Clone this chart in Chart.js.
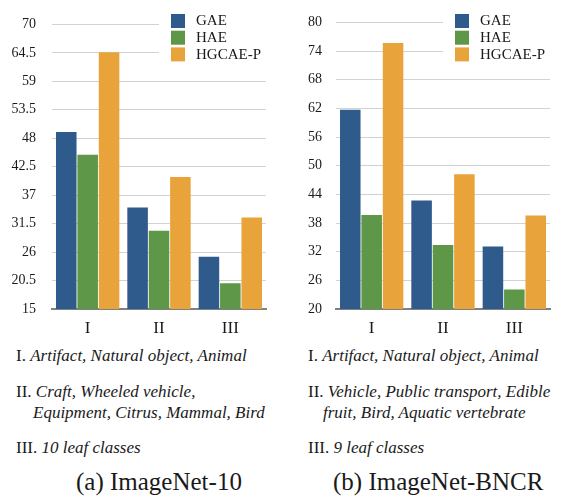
<!DOCTYPE html>
<html>
<head>
<meta charset="utf-8">
<script src="https://cdn.jsdelivr.net/npm/chart.js@4"></script>
<style>
  body { margin: 0; background: #fff; }
  #page { position: relative; width: 571px; height: 498px; overflow: hidden; font-family: "Liberation Serif", serif; color: #1a1a1a; }
  .box { position: absolute; top: 0; height: 340px; }
  .t { position: absolute; white-space: nowrap; font-size: 17px; line-height: 17px; }
  .cap { position: absolute; white-space: nowrap; font-size: 25px; line-height: 25px; }
</style>
</head>
<body>
<div id="page">
  <div class="box" style="left:0;width:285px"><canvas id="chart1"></canvas></div>
  <div class="box" style="left:285px;width:286px"><canvas id="chart2"></canvas></div>

  <div class="t" style="left:16px;top:347px">I. <i>Artifact, Natural object, Animal</i></div>
  <div class="t" style="left:16px;top:383px">II. <i>Craft, Wheeled vehicle,</i></div>
  <div class="t" style="left:33px;top:404px"><i>Equipment, Citrus, Mammal, Bird</i></div>
  <div class="t" style="left:16px;top:439px">III. <i>10 leaf classes</i></div>
  <div class="cap" style="left:76px;top:469px">(a) ImageNet-10</div>

  <div class="t" style="left:308px;top:347px">I. <i>Artifact, Natural object, Animal</i></div>
  <div class="t" style="left:308px;top:383px">II. <i>Vehicle, Public transport, Edible</i></div>
  <div class="t" style="left:323px;top:404px"><i>fruit, Bird, Aquatic vertebrate</i></div>
  <div class="t" style="left:308px;top:439px">III. <i>9 leaf classes</i></div>
  <div class="cap" style="left:333px;top:469px">(b) ImageNet-BNCR</div>
</div>
<script>
const categories = ['I', 'II', 'III'];
const seriesNames = ['GAE', 'HAE', 'HGCAE-P'];
const colors = ['#2e5a8c', '#5d9747', '#e8a33b'];

// ImageNet-10
const gae10 = [49.2, 34.6, 25.1];
const hae10 = [44.8, 30.1, 20.0];
const hgcae10 = [64.6, 40.5, 32.7];
const ticks10 = [15, 20.5, 26, 31.5, 37, 42.5, 48, 53.5, 59, 64.5, 70];

// ImageNet-BNCR
const gaeB = [61.7, 42.7, 33.1];
const haeB = [39.7, 33.4, 24.1];
const hgcaeB = [75.7, 48.2, 39.6];
const ticksB = [20, 26, 32, 38, 44, 50, 56, 62, 68, 74, 80];

const font = 'Liberation Serif';

// legend drawn inside the plot, top right, on a white patch
const innerLegend = {
  id: 'innerLegend',
  afterDraw(chart) {
    const ctx = chart.ctx;
    const area = chart.chartArea;
    const bx = area.right - 95;
    ctx.save();
    ctx.fillStyle = '#fff';
    ctx.fillRect(bx - 12, 12, area.right - bx + 14, 52);
    ctx.font = '15px "' + font + '"';
    ctx.textBaseline = 'middle';
    chart.data.datasets.forEach((ds, i) => {
      const y = 14 + i * 16.7;
      ctx.fillStyle = ds.backgroundColor;
      ctx.fillRect(bx, y, 14, 14);
      ctx.fillStyle = '#1a1a1a';
      ctx.fillText(ds.label, bx + 25, y + 7.5);
    });
    ctx.restore();
  }
};

function makeChart(id, series, tickVals, yWidth, tickPad, padRight) {
  new Chart(document.getElementById(id), {
    type: 'bar',
    data: {
      labels: categories,
      datasets: series.map((d, i) => ({
        label: seriesNames[i],
        data: d,
        backgroundColor: colors[i],
        categoryPercentage: 0.9,
        barPercentage: 0.96
      }))
    },
    options: {
      responsive: true,
      maintainAspectRatio: false,
      animation: false,
      layout: { padding: { top: 9, right: padRight, left: 0, bottom: 0 } },
      plugins: { legend: { display: false }, tooltip: { enabled: false } },
      scales: {
        x: {
          grid: { display: false, drawTicks: false },
          border: { display: true, color: '#808080', width: 2 },
          ticks: { color: '#1a1a1a', padding: 9, font: { family: font, size: 17 } },
          afterFit(s) { s.height = 31; }
        },
        y: {
          min: tickVals[0],
          max: tickVals[tickVals.length - 1],
          grid: { color: '#d2d2d2', lineWidth: 1, drawTicks: false },
          border: { display: false },
          ticks: { color: '#1a1a1a', padding: tickPad, font: { family: font, size: 14 } },
          afterBuildTicks(s) { s.ticks = tickVals.map(v => ({ value: v })); },
          afterFit(s) { s.width = yWidth; }
        }
      }
    },
    plugins: [innerLegend]
  });
}

makeChart('chart1', [gae10, hae10, hgcae10], ticks10, 52, 16, 19);
makeChart('chart2', [gaeB, haeB, hgcaeB], ticksB, 51, 14, 21);
</script>
</body>
</html>
